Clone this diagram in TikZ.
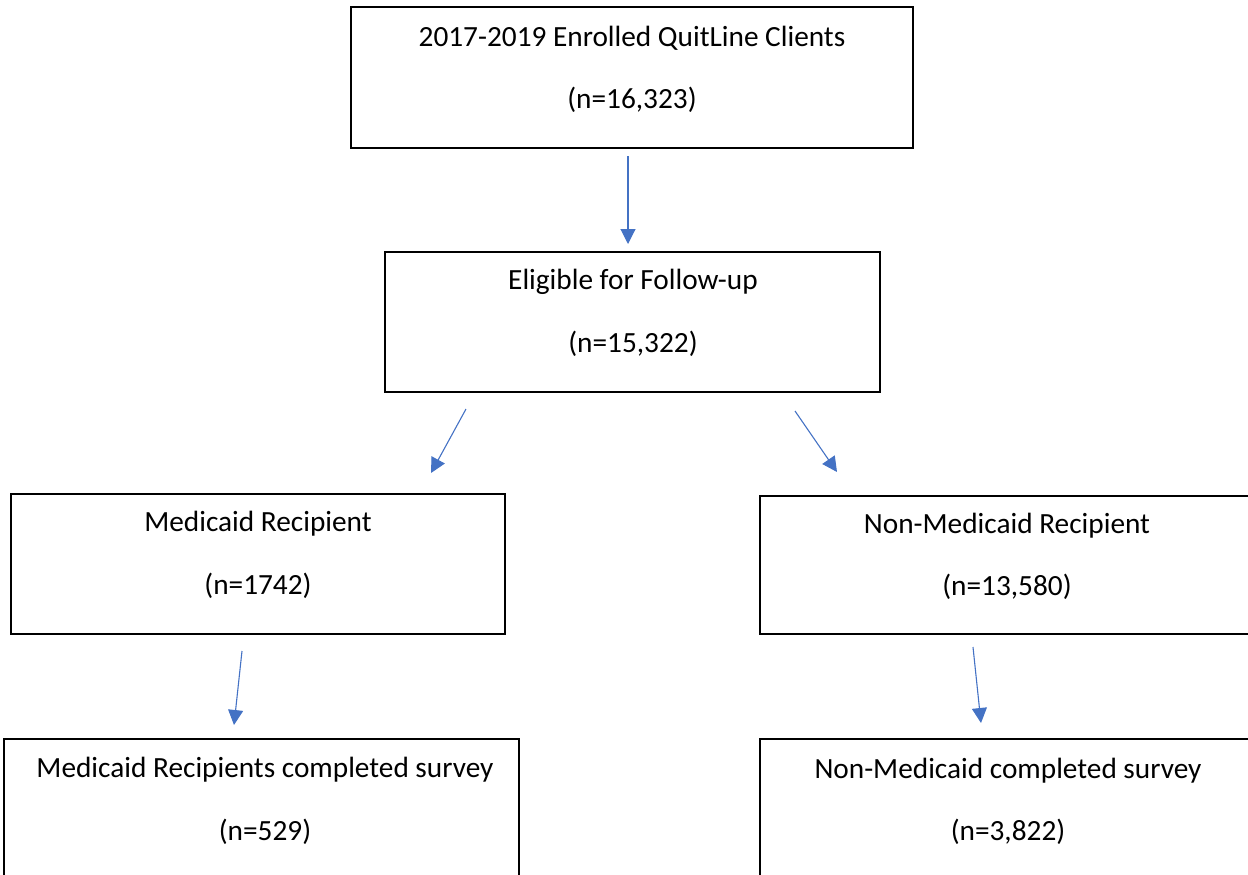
\documentclass[tikz,border=0pt]{standalone}
\usepackage{fontspec}
\setmainfont{Carlito}
\usetikzlibrary{arrows.meta}
\definecolor{arrowblue}{HTML}{4472C4}
\tikzset{
  box/.style={draw=black, line width=1.6pt, fill=white},
  lbl/.style={font=\fontsize{29.3}{34}\selectfont, inner sep=0pt, anchor=center},
  flow/.style={draw=arrowblue, line width=1.1pt, -{Triangle[length=15pt,width=15pt]}}
}
\begin{document}
\begin{tikzpicture}[x=1pt,y=-1pt]
\useasboundingbox (0,0) rectangle (1248,875);
\clip (0,0) rectangle (1248,875);
% boxes
\draw[box] (351,7) rectangle (913,148);
\draw[box] (385,252) rectangle (880,392);
\draw[box] (11,494) rectangle (505,634);
\draw[box] (760,496) rectangle (1256,634);
\draw[box] (4,739) rectangle (519,900);
\draw[box] (760,739) rectangle (1256,900);
% texts
\node[lbl] (t1a) at (632,38) {2017-2019 Enrolled QuitLine Clients};
\node[lbl] (t1b) at (632,100) {(n=16,323)};
\node[lbl] (t2a) at (633,282) {Eligible for Follow-up};
\node[lbl] (t2b) at (633,344) {(n=15,322)};
\node[lbl] (t3a) at (258,524) {Medicaid Recipient};
\node[lbl] (t3b) at (258,586) {(n=1742)};
\node[lbl] (t4a) at (1007,526) {Non-Medicaid Recipient};
\node[lbl] (t4b) at (1007,587) {(n=13,580)};
\node[lbl] (t5a) at (265,770) {Medicaid Recipients completed survey};
\node[lbl] (t5b) at (265,832) {(n=529)};
\node[lbl] (t6a) at (1008,771) {Non-Medicaid completed survey};
\node[lbl] (t6b) at (1008,832) {(n=3,822)};
% arrow end points
\coordinate (a1s) at (628,156);
\coordinate (a1e) at (628,244);
\coordinate (a2s) at (466,409);
\coordinate (a2e) at (431,473);
\coordinate (a3s) at (795,411);
\coordinate (a3e) at (837,472);
\coordinate (a4s) at (242,651);
\coordinate (a4e) at (234,725);
\coordinate (a5s) at (973,647);
\coordinate (a5e) at (981,723);
\draw[flow] (a1s) -- (a1e);
\draw[flow] (a2s) -- (a2e);
\draw[flow] (a3s) -- (a3e);
\draw[flow] (a4s) -- (a4e);
\draw[flow] (a5s) -- (a5e);
\end{tikzpicture}
\end{document}
